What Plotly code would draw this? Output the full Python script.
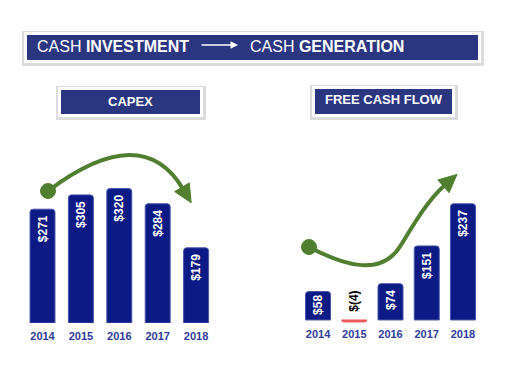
import plotly.graph_objects as go

# ---- data ----
years = ["2014", "2015", "2016", "2017", "2018"]
capex = [271, 305, 320, 284, 179]
fcf = [58, -4, 74, 151, 237]

W, H = 526, 380
NAVY = "#0b1a84"
BANNER = "#2b3680"
GREEN = "#4f7f2f"
LABEL = "#2d3b9b"
FONT = "Liberation Sans, Arial, sans-serif"
NB = "\u00a0"


def px(x, y):
    return x / W, 1 - y / H


def pstr(x, y):
    a, b = px(x, y)
    return f"{a:.5f},{b:.5f}"


def lab(v):
    return f"<b>${v}{NB if v > 65 else ''}</b>"


fig = go.Figure()

# CAPEX bars
fig.add_trace(go.Bar(
    x=years, y=capex, xaxis="x", yaxis="y",
    text=[lab(v) for v in capex],
    textposition="inside", insidetextanchor="end", textangle=-90,
    textfont=dict(color="white", size=12, family=FONT),
    marker=dict(color=NAVY, cornerradius=3, line=dict(color="#4a57a8", width=1)),
    width=0.65, hoverinfo="skip", showlegend=False,
))

# FCF bars
fig.add_trace(go.Bar(
    x=years, y=fcf, xaxis="x2", yaxis="y2",
    text=[lab(v) if v >= 0 else "" for v in fcf],
    textposition="inside", insidetextanchor="end", textangle=-90,
    textfont=dict(color="white", size=12, family=FONT),
    marker=dict(color=[NAVY if v >= 0 else "#f05a5a" for v in fcf], cornerradius=3,
                line=dict(color=["#4a57a8" if v >= 0 else "#f05a5a" for v in fcf], width=1)),
    width=0.69, hoverinfo="skip", showlegend=False,
))

annotations = []
for i, v in enumerate(fcf):
    if v < 0:
        annotations.append(dict(
            x=i, y=0, xref="x2", yref="y2", text=f"<b>$({abs(v)})</b>",
            xanchor="center", showarrow=False, textangle=-90, yanchor="bottom", yshift=6,
            font=dict(color="black", size=12, family=FONT)))

shapes = []


def rect(x0, y0, x1, y1, fill):
    a0, b0 = px(x0, y1)
    a1, b1 = px(x1, y0)
    shapes.append(dict(type="rect", xref="paper", yref="paper", x0=a0, y0=b0, x1=a1, y1=b1,
                       fillcolor=fill, line=dict(width=0), layer="below"))


def banner(x0, y0, x1, y1):
    rect(x0 - 2, y0 - 1, x1 + 3, y1 + 3, "#dcdcdc")
    rect(x0, y0, x1, y1, "white")
    rect(x0 + 3, y0 + 3, x1 - 3, y1 - 3, BANNER)


banner(24, 32, 481, 63)
banner(58, 87, 203, 117)
banner(312, 86, 455, 117)

# banner texts
cy = px(0, 46)[1]
annotations.append(dict(x=px(35, 0)[0], y=cy, xref="paper", yref="paper", xanchor="left",
                        yanchor="middle", text="CASH <b>INVESTMENT</b>", showarrow=False,
                        font=dict(color="white", size=16, family=FONT)))
annotations.append(dict(x=px(248, 0)[0], y=cy, xref="paper", yref="paper", xanchor="left",
                        yanchor="middle", text="CASH <b>GENERATION</b>", showarrow=False,
                        font=dict(color="white", size=16, family=FONT)))
annotations.append(dict(x=px(238, 0)[0], y=px(0, 45)[1], xref="paper", yref="paper",
                        ax=-38, ay=0, text="", showarrow=True, arrowhead=2, arrowsize=1,
                        arrowwidth=1.5, arrowcolor="white"))
annotations.append(dict(x=px(130.5, 0)[0], y=px(0, 101)[1], xref="paper", yref="paper",
                        xanchor="center", yanchor="middle", text="<b>CAPEX</b>", showarrow=False,
                        font=dict(color="white", size=13, family=FONT)))
annotations.append(dict(x=px(384, 0)[0], y=px(0, 100)[1], xref="paper", yref="paper",
                        xanchor="center", yanchor="middle", text="<b>FREE CASH FLOW</b>",
                        showarrow=False, font=dict(color="white", size=13, family=FONT)))


def curve(path_pts, tip_base, tip_from, circ):
    shapes.append(dict(type="path", xref="paper", yref="paper", path=path_pts,
                       line=dict(color=GREEN, width=4), fillcolor="rgba(0,0,0,0)"))
    bx, by = tip_base
    fx, fy = tip_from
    dx, dy = bx - fx, by - fy
    n = (dx * dx + dy * dy) ** 0.5
    dx, dy = dx / n, dy / n
    L, hw = 16, 8.5
    tx, ty = bx + L * dx, by + L * dy
    sx, sy = bx - 2 * dx, by - 2 * dy
    p1 = (sx - hw * dy, sy + hw * dx)
    p2 = (sx + hw * dy, sy - hw * dx)
    shapes.append(dict(type="path", xref="paper", yref="paper",
                       path=f"M{pstr(tx, ty)} L{pstr(*p1)} L{pstr(*p2)} Z",
                       fillcolor=GREEN, line=dict(color=GREEN, width=1)))
    cxp, cyp = circ
    r = 7.5
    a0, b0 = px(cxp - r, cyp + r)
    a1, b1 = px(cxp + r, cyp - r)
    shapes.append(dict(type="circle", xref="paper", yref="paper", x0=a0, y0=b0, x1=a1, y1=b1,
                       fillcolor=GREEN, line=dict(color=GREEN, width=1)))


curve(f"M{pstr(48, 191)} Q{pstr(142, 120)} {pstr(183, 189)}", (183, 189), (142, 120), (48, 191))
curve(f"M{pstr(309, 247)} C{pstr(345, 266)} {pstr(382, 277)} {pstr(401, 245)} "
      f"C{pstr(415, 222)} {pstr(428, 200)} {pstr(445, 185)}", (445, 185), (428, 200), (309, 247))

axis_common = dict(showgrid=False, zeroline=False, showline=False, ticks="", automargin=False,
                   fixedrange=True)
tickfont = dict(color=LABEL, size=11, family=FONT)
fig.update_layout(
    template="none",
    width=W, height=H, margin=dict(l=0, r=0, t=0, b=0, pad=0, autoexpand=False),
    paper_bgcolor="white", plot_bgcolor="rgba(0,0,0,0)",
    xaxis=dict(domain=[23.3 / W, 215.3 / W], anchor="y", type="category",
               categoryorder="array", categoryarray=years, range=[-0.5, 4.5],
               tickvals=years, ticktext=[f"<b>{y}</b>" for y in years],
               ticklabelstandoff=5, tickfont=tickfont, **axis_common),
    yaxis=dict(domain=[57 / H, 204 / H], anchor="x", range=[0, 350], showticklabels=False,
               **axis_common),
    xaxis2=dict(domain=[299.9 / W, 481.1 / W], anchor="y2", type="category",
                categoryorder="array", categoryarray=years, range=[-0.5, 4.5],
                tickvals=years, ticktext=[f"<b>{y}</b>" for y in years],
                ticklabelstandoff=3, tickfont=tickfont, **axis_common),
    yaxis2=dict(domain=[(380 - 322.9) / H, (380 - 322.9 + 150) / H], anchor="x2",
                range=[-6, 300], showticklabels=False, **axis_common),
    shapes=shapes, annotations=annotations, showlegend=False,
)

fig.write_html("out.html", config={"displayModeBar": False},
               post_script="document.body.style.margin='0';")
